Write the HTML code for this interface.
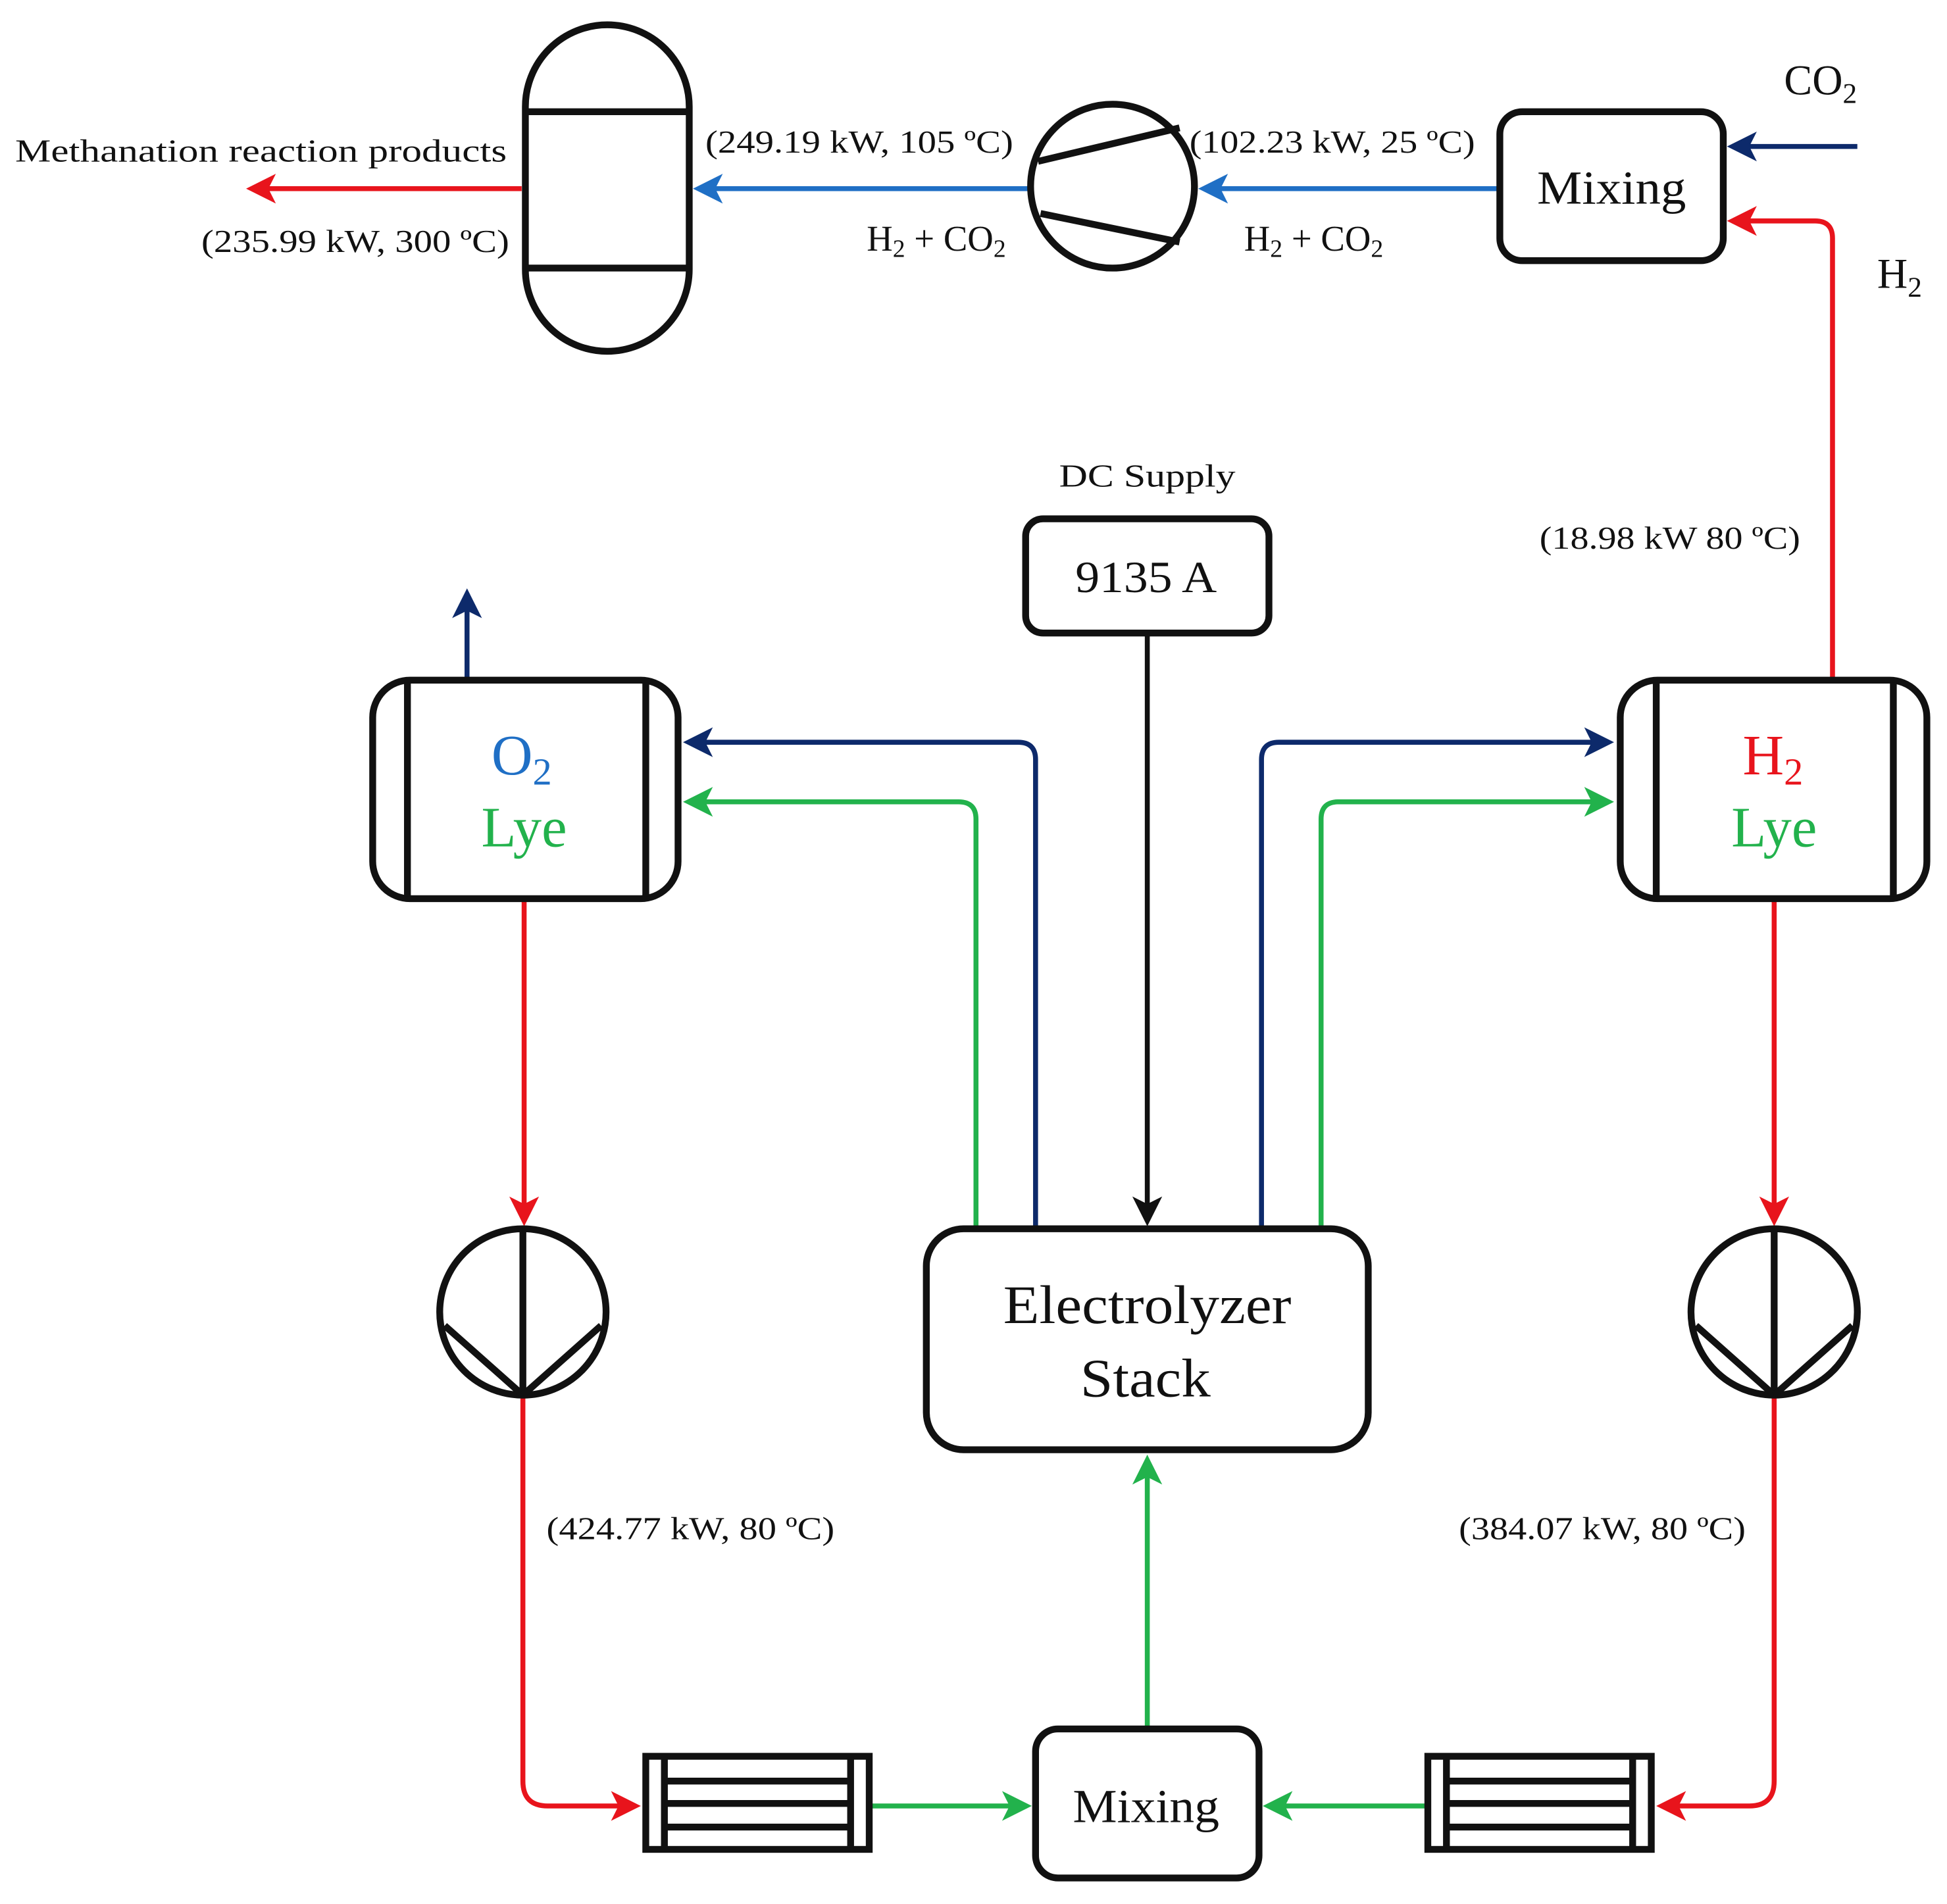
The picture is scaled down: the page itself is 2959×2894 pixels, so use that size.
<!DOCTYPE html>
<html><head><meta charset="utf-8"><style>
html,body{margin:0;padding:0;background:#fff;}
svg{display:block;}
text{font-family:"Liberation Serif",serif;fill:#111;}
</style></head><body>
<svg width="2959" height="2894" viewBox="0 0 1568 1534" xmlns="http://www.w3.org/2000/svg">
<defs>
<marker id="ar" markerWidth="6" markerHeight="6" refX="5" refY="3" orient="auto" markerUnits="strokeWidth"><path d="M0,0 L6,3 L0,6 L1.5,3 z" fill="#e8141c"/></marker>
<marker id="ab" markerWidth="6" markerHeight="6" refX="5" refY="3" orient="auto" markerUnits="strokeWidth"><path d="M0,0 L6,3 L0,6 L1.5,3 z" fill="#1f6fc5"/></marker>
<marker id="an" markerWidth="6" markerHeight="6" refX="5" refY="3" orient="auto" markerUnits="strokeWidth"><path d="M0,0 L6,3 L0,6 L1.5,3 z" fill="#0d2a6b"/></marker>
<marker id="ag" markerWidth="6" markerHeight="6" refX="5" refY="3" orient="auto" markerUnits="strokeWidth"><path d="M0,0 L6,3 L0,6 L1.5,3 z" fill="#22b24c"/></marker>
<marker id="ak" markerWidth="6" markerHeight="6" refX="5" refY="3" orient="auto" markerUnits="strokeWidth"><path d="M0,0 L6,3 L0,6 L1.5,3 z" fill="#111"/></marker>
</defs>
<g fill="none" stroke-width="4">
<line x1="420" y1="152" x2="202" y2="152" stroke="#e8141c" marker-end="url(#ar)"/>
<line x1="830" y1="152" x2="562" y2="152" stroke="#1f6fc5" marker-end="url(#ab)"/>
<line x1="1208" y1="152" x2="969" y2="152" stroke="#1f6fc5" marker-end="url(#ab)"/>
<line x1="1496" y1="118" x2="1395" y2="118" stroke="#0d2a6b" marker-end="url(#an)"/>
<path d="M1476,548 V192 Q1476,178 1462,178 H1395" stroke="#e8141c" marker-end="url(#ar)"/>
<line x1="924" y1="510" x2="924" y2="984" stroke="#111" marker-end="url(#ak)"/>
<line x1="376" y1="546" x2="376" y2="478" stroke="#0d2a6b" marker-end="url(#an)"/>
<path d="M834,988 V612 Q834,598 820,598 H554" stroke="#0d2a6b" marker-end="url(#an)"/>
<path d="M786,988 V660 Q786,646 772,646 H554" stroke="#22b24c" marker-end="url(#ag)"/>
<path d="M1016,988 V612 Q1016,598 1030,598 H1296" stroke="#0d2a6b" marker-end="url(#an)"/>
<path d="M1064,988 V660 Q1064,646 1078,646 H1296" stroke="#22b24c" marker-end="url(#ag)"/>
<line x1="422" y1="726" x2="422" y2="984" stroke="#e8141c" marker-end="url(#ar)"/>
<line x1="1429" y1="726" x2="1429" y2="984" stroke="#e8141c" marker-end="url(#ar)"/>
<path d="M421,1124 V1435 Q421,1455 441,1455 H512" stroke="#e8141c" marker-end="url(#ar)"/>
<path d="M1429,1124 V1435 Q1429,1455 1409,1455 H1338" stroke="#e8141c" marker-end="url(#ar)"/>
<line x1="702" y1="1455" x2="827" y2="1455" stroke="#22b24c" marker-end="url(#ag)"/>
<line x1="1150" y1="1455" x2="1021" y2="1455" stroke="#22b24c" marker-end="url(#ag)"/>
<line x1="924" y1="1393" x2="924" y2="1176" stroke="#22b24c" marker-end="url(#ag)"/>
</g>
<g fill="#fff" stroke="#111" stroke-width="5.5">
<rect x="423" y="20" width="132" height="263" rx="66"/>
<line x1="423" y1="90" x2="555" y2="90"/><line x1="423" y1="216" x2="555" y2="216"/>
<circle cx="896" cy="150" r="66"/>
<line x1="836" y1="130" x2="950" y2="103"/><line x1="838" y1="172" x2="950" y2="195"/>
<rect x="1208" y="90" width="180" height="120" rx="18"/>
<rect x="826" y="418" width="196" height="92" rx="14"/>
<rect x="746" y="990" width="356" height="178" rx="30"/>
<rect x="300" y="548" width="246" height="176" rx="30"/>
<line x1="328" y1="550" x2="328" y2="722"/><line x1="520" y1="550" x2="520" y2="722"/>
<rect x="1305" y="548" width="247" height="176" rx="30"/>
<line x1="1334" y1="550" x2="1334" y2="722"/><line x1="1525" y1="550" x2="1525" y2="722"/>
<circle cx="421" cy="1057" r="67"/>
<line x1="421" y1="990" x2="421" y2="1124"/><line x1="358" y1="1068" x2="421" y2="1124"/><line x1="484" y1="1068" x2="421" y2="1124"/>
<circle cx="1429" cy="1057" r="67"/>
<line x1="1429" y1="990" x2="1429" y2="1124"/><line x1="1366" y1="1068" x2="1429" y2="1124"/><line x1="1492" y1="1068" x2="1429" y2="1124"/>
<rect x="520" y="1415" width="180" height="75"/>
<line x1="535" y1="1415" x2="535" y2="1490"/><line x1="685" y1="1415" x2="685" y2="1490"/>
<line x1="535" y1="1435" x2="685" y2="1435"/><line x1="535" y1="1453" x2="685" y2="1453"/><line x1="535" y1="1472" x2="685" y2="1472"/>
<rect x="1150" y="1415" width="180" height="75"/>
<line x1="1165" y1="1415" x2="1165" y2="1490"/><line x1="1315" y1="1415" x2="1315" y2="1490"/>
<line x1="1165" y1="1435" x2="1315" y2="1435"/><line x1="1165" y1="1453" x2="1315" y2="1453"/><line x1="1165" y1="1472" x2="1315" y2="1472"/>
<rect x="834" y="1393" width="180" height="120" rx="18"/>
</g>
<g font-size="26">
<text x="12" y="130" textLength="396" lengthAdjust="spacingAndGlyphs">Methanation reaction products</text>
<text x="162" y="203" textLength="248" lengthAdjust="spacingAndGlyphs">(235.99 kW, 300 ºC)</text>
<text x="568" y="123" textLength="248" lengthAdjust="spacingAndGlyphs">(249.19 kW, 105 ºC)</text>
<text x="698" y="202" font-size="29">H<tspan font-size="20" dy="5">2</tspan><tspan dy="-5"> + CO</tspan><tspan font-size="20" dy="5">2</tspan></text>
<text x="958" y="123" textLength="230" lengthAdjust="spacingAndGlyphs">(102.23 kW, 25 ºC)</text>
<text x="1002" y="202" font-size="29">H<tspan font-size="20" dy="5">2</tspan><tspan dy="-5"> + CO</tspan><tspan font-size="20" dy="5">2</tspan></text>
<text x="1240" y="442" textLength="210" lengthAdjust="spacingAndGlyphs">(18.98 kW 80 ºC)</text>
<text x="853" y="392" textLength="142" lengthAdjust="spacingAndGlyphs">DC Supply</text>
<text x="440" y="1240" textLength="232" lengthAdjust="spacingAndGlyphs">(424.77 kW, 80 ºC)</text>
<text x="1175" y="1240" textLength="231" lengthAdjust="spacingAndGlyphs">(384.07 kW, 80 ºC)</text>
</g>
<text x="1437" y="76" font-size="34">CO<tspan font-size="23" dy="7">2</tspan></text>
<text x="1512" y="232" font-size="34">H<tspan font-size="23" dy="7">2</tspan></text>
<text x="1238" y="164" font-size="38" textLength="120" lengthAdjust="spacingAndGlyphs">Mixing</text>
<text x="864" y="1468" font-size="38" textLength="118" lengthAdjust="spacingAndGlyphs">Mixing</text>
<text x="866" y="477" font-size="36" textLength="114" lengthAdjust="spacingAndGlyphs">9135 A</text>
<text x="808" y="1066" font-size="44" textLength="232" lengthAdjust="spacingAndGlyphs">Electrolyzer</text>
<text x="870" y="1125" font-size="44" textLength="105" lengthAdjust="spacingAndGlyphs">Stack</text>
<text x="420" y="624" font-size="46" text-anchor="middle" style="fill:#1f6fc5">O<tspan font-size="31" dy="8">2</tspan></text>
<text x="422" y="682" font-size="46" text-anchor="middle" style="fill:#22b24c">Lye</text>
<text x="1428" y="624" font-size="46" text-anchor="middle" style="fill:#e8141c">H<tspan font-size="31" dy="8">2</tspan></text>
<text x="1429" y="682" font-size="46" text-anchor="middle" style="fill:#22b24c">Lye</text>
</svg>
</body></html>
